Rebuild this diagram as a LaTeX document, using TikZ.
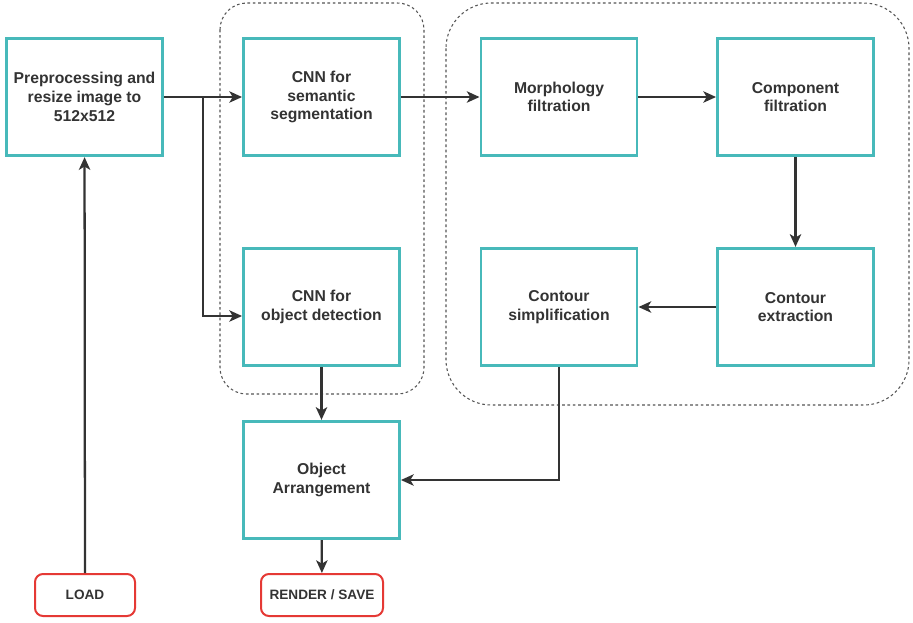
\documentclass[tikz,border=0pt]{standalone}
\usepackage{fontspec}
\setmainfont{Liberation Sans}
\usetikzlibrary{arrows.meta,calc}
\definecolor{boxteal}{HTML}{47B9BA}
\definecolor{endred}{HTML}{E53935}
\definecolor{ink}{HTML}{333333}
\definecolor{groupgrey}{HTML}{555555}

\begin{document}
\begin{tikzpicture}[x=0.75pt,y=-0.75pt,
  stage/.style={draw=boxteal,line width=2.2pt,minimum width=117pt,minimum height=88pt,
    align=center,text=ink,font=\bfseries\fontsize{11.8}{14}\selectfont},
  terminal/.style={draw=endred,line width=1.5pt,rounded corners=6pt,minimum width=75pt,
    minimum height=31.5pt,text=ink,font=\bfseries\fontsize{10.2}{12}\selectfont},
  group/.style={draw=groupgrey,line width=0.8pt,dash pattern=on 2pt off 2pt},
  flow/.style={draw=ink,line width=1.7pt,-{Stealth[length=9.5pt,width=8.5pt,inset=2.5pt]}}]
\useasboundingbox (0,0) rectangle (913,622);

\draw[group,rounded corners=20pt] (220,3) rectangle (424,394);
\draw[group,rounded corners=34pt] (446,3) rectangle (909,405);

\node[stage] (pre) at (84.5,97) {Preprocessing and\\resize image to\\512x512};
\node[stage] (seg) at (321.5,97) {CNN for\\semantic\\segmentation};
\node[stage] (obj) at (321.5,307) {CNN for\\object detection};
\node[stage] (morph) at (559,97) {Morphology\\filtration};
\node[stage] (comp) at (795.5,97) {Component\\filtration};
\node[stage] (extr) at (795.5,307) {Contour\\extraction};
\node[stage] (simp) at (559,307) {Contour\\simplification};
\node[stage] (arr) at (321.5,480) {Object\\Arrangement};
\node[terminal] (load) at (85,595) {LOAD};
\node[terminal,minimum width=91.5pt] (render) at (322,595) {RENDER / SAVE};

\coordinate (split) at (203,97);
\draw[flow] (load) -- (pre);
\draw[flow] (pre) -- (seg);
\draw[flow] (split) |- ($(obj.west)+(0,9)$);
\draw[flow] (seg) -- (morph);
\draw[flow] (morph) -- (comp);
\draw[flow] (comp) -- (extr);
\draw[flow] (extr) -- (simp);
\draw[flow] (simp.south) |- (arr.east);
\draw[flow] (obj) -- (arr);
\draw[flow] (arr) -- (render);
\end{tikzpicture}
\end{document}
